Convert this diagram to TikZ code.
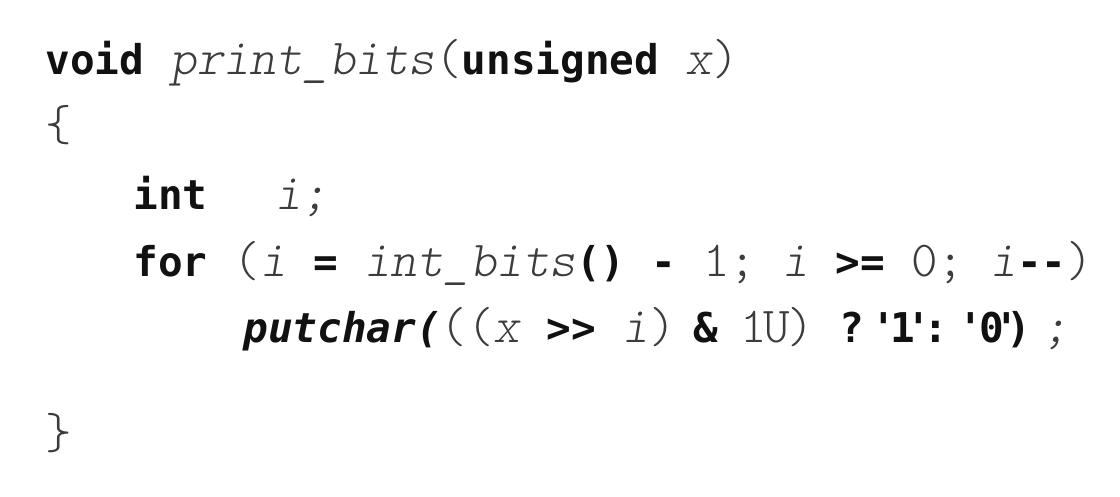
\documentclass[tikz,border=0pt]{standalone}
\definecolor{CodeInk}{RGB}{17, 17, 17}
\definecolor{CodeGray}{RGB}{60, 60, 60}
\usepackage{fontspec}
\usepackage{tikz}
\usetikzlibrary{positioning}
\newfontfamily\kwfont{DejaVu Sans Mono}[Ligatures=TeXOff]
\newfontfamily\lightfont{lmmonolt10-regular.otf}[ItalicFont=lmmonolt10-oblique.otf, Ligatures=TeXOff]
\newcommand\kw[1]{{\kwfont\bfseries\fontsize{20.5}{24}\selectfont\color{CodeInk}#1}}
\newcommand\kwi[1]{{\kwfont\bfseries\itshape\fontsize{20.5}{24}\selectfont\color{CodeInk}#1}}
\newcommand\pn[1]{{\lightfont\fontsize{25.2}{30}\selectfont\color{CodeGray}#1}}
\newcommand\vr[1]{{\lightfont\itshape\fontsize{25.2}{30}\selectfont\color{CodeGray}#1}}

\begin{document}
\begin{tikzpicture}[x=0.5pt, y=-0.5pt,
        codeline/.style={anchor=base west, inner sep=0pt, font=\lightfont\fontsize{25.2}{30}\selectfont}
    ]
        \useasboundingbox (0,0) rectangle (1120,497);
        \node[codeline] (sig) at (45,75) {\kw{void}~\vr{print\_bits}\pn{(}\kw{unsigned}~\vr{x}\pn{)}};
        \node[codeline] (lbrace) at (45,141) {\pn{\{}};
        \node[codeline] (decl) at (133,210) {\kw{int}\hspace{34pt}\vr{i;}};
        \node[codeline] (loop) at (133,277) {\kw{for}~\pn{(}\vr{i}~\kw{=}~\vr{int\_bits}\kw{()}~\kw{-}~\pn{1;}~\vr{i}~\kw{>=}~\pn{0;}~\vr{i}\kw{--}\pn{)}};
        % quotes and digits of the last line sit closer than a full cell
        \node[codeline] (body) at (243,343) {\kwi{putchar(}\pn{((}\vr{x}~\kw{>>}~\vr{i}\pn{)}\hspace{9pt}\kw{\&}\hspace{11pt}\pn{1\kern-1.5pt U\kern-1.5pt )}~\kw{?}\hspace{3.6pt}\kw{'\kern-2.85pt 1\kern-4.35pt '\kern-3.85pt :}\hspace{5.2pt}\kw{'\kern-1.85pt 0\kern-4.85pt '\kern-6.35pt )}\hspace{5.7pt}\vr{;}};
        \node[codeline] (rbrace) at (45,449) {\pn{\}}};
    \end{tikzpicture}
\end{document}
